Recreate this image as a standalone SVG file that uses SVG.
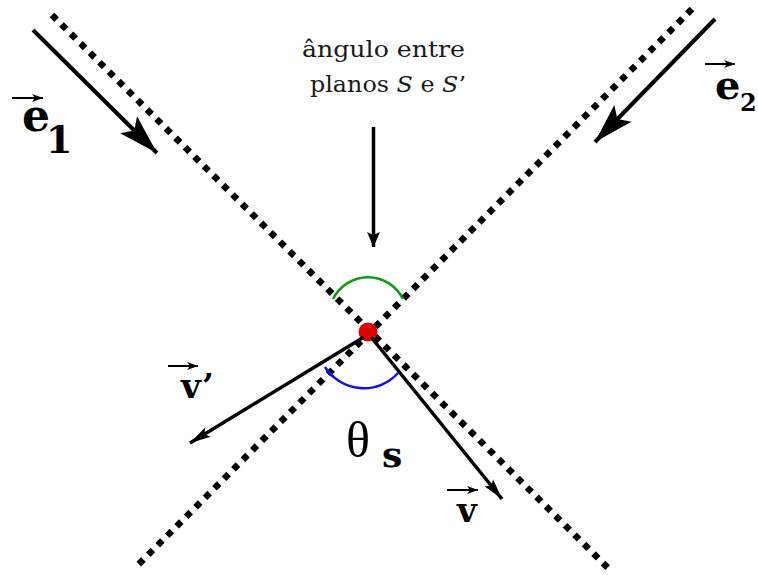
<svg xmlns="http://www.w3.org/2000/svg" width="758" height="575" viewBox="0 0 758 575">
<style>
.dot{fill:none;stroke:#000;stroke-width:6.5;stroke-dasharray:6.5 6.9}
.ar{fill:none;stroke:#000}
.math{font-family:"DejaVu Serif","Liberation Serif",serif;font-weight:bold;fill:#000}
.note{font-family:"DejaVu Serif","Liberation Serif",serif;font-size:22px;fill:#1a1a1a}
.vec{stroke:#000;stroke-width:2;fill:none}
</style>
<defs>
<marker id="big" markerUnits="userSpaceOnUse" orient="auto" markerWidth="44" markerHeight="30" refX="0" refY="0" viewBox="-42 -15 44 30" overflow="visible">
<path d="M0,0 L-40,-12 L-32,0 L-40,12 Z" fill="#000"/>
</marker>
<marker id="mid" markerUnits="userSpaceOnUse" orient="auto" markerWidth="24" markerHeight="14" refX="0" refY="0" viewBox="-22 -7 24 14" overflow="visible">
<path d="M0,0 L-21,-5.5 L-17,0 L-21,5.5 Z" fill="#000"/>
</marker>
<marker id="small" markerUnits="userSpaceOnUse" orient="auto" markerWidth="18" markerHeight="14" refX="0" refY="0" viewBox="-17 -7 18 14" overflow="visible">
<path d="M0,0 L-15,-6.5 L-12,0 L-15,6.5 Z" fill="#000"/>
</marker>
<marker id="tiny" markerUnits="userSpaceOnUse" orient="auto" markerWidth="12" markerHeight="8" refX="0" refY="0" viewBox="-12 -4 12 8" overflow="visible">
<path d="M0,0 L-11,-4 L-8,0 L-11,4 Z" fill="#000"/>
</marker>
</defs>

<g id="planes">
<line class="dot" x1="52" y1="15" x2="608" y2="568"/>
<line class="dot" x1="692" y1="9" x2="138" y2="565"/>
</g>

<g id="angles">
<path d="M333,299 A39,39 0 0 1 403,299" fill="none" stroke="#109a10" stroke-width="2.5"/>
<path d="M325,367 A46,46 0 0 0 398,373" fill="none" stroke="#1010ee" stroke-width="2.5"/>
</g>

<g id="point">
<circle cx="368" cy="332" r="9.5" fill="#e00000"/>
</g>

<g id="connectors">
<line class="ar" x1="33" y1="30" x2="157" y2="153" stroke-width="4" marker-end="url(#big)"/>
<line class="ar" x1="715" y1="19" x2="595" y2="142" stroke-width="4" marker-end="url(#big)"/>
<line class="ar" x1="373.5" y1="127" x2="373.5" y2="247" stroke-width="3.5" marker-end="url(#small)"/>
<line class="ar" x1="364" y1="337" x2="190" y2="443" stroke-width="3.5" marker-end="url(#mid)"/>
<line class="ar" x1="371" y1="337" x2="502" y2="499" stroke-width="3.5" marker-end="url(#mid)"/>
</g>

<g id="label-note">
<text class="note" x="302" y="57" textLength="163" lengthAdjust="spacingAndGlyphs">ângulo entre</text>
<text class="note" x="310" y="92" textLength="156" lengthAdjust="spacingAndGlyphs">planos <tspan font-style="italic">S</tspan> e <tspan font-style="italic">S</tspan>’</text>
</g>

<g id="label-e1">
<line class="vec" x1="12" y1="98" x2="43" y2="98" marker-end="url(#tiny)"/>
<text class="math" x="22" y="131" font-size="44">e</text>
<text class="math" x="46" y="153" font-size="38">1</text>
</g>

<g id="label-e2">
<line class="vec" x1="705" y1="64" x2="735" y2="64" marker-end="url(#tiny)"/>
<text class="math" x="715" y="99" font-size="40">e</text>
<text class="math" x="740" y="111" font-size="24">2</text>
</g>

<g id="label-vprime">
<line class="vec" x1="168" y1="366" x2="198" y2="366" marker-end="url(#tiny)"/>
<text class="math" x="181" y="398" font-size="34">v’</text>
</g>

<g id="label-v">
<line class="vec" x1="447" y1="490" x2="478" y2="490" marker-end="url(#tiny)"/>
<text class="math" x="457" y="522" font-size="34">v</text>
</g>

<g id="label-theta">
<text x="346" y="457" font-family="Liberation Serif, serif" font-size="50" fill="#000">θ</text>
<text class="math" x="382" y="467" font-size="36">s</text>
</g>
</svg>
